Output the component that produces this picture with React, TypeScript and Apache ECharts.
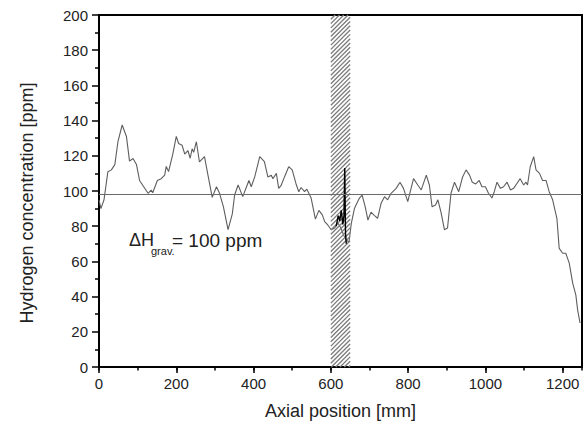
import React, { useEffect, useRef } from 'react';
import * as echarts from 'echarts';

// Main measured profile: axial position [mm] and hydrogen concentration [ppm]
const axialPositions = [
  0, 5, 13, 23, 32, 41, 49, 60, 71, 79, 88, 97, 105, 114, 127, 135, 139, 151, 161, 170,
  174, 180, 191, 200, 206, 215, 222, 230, 236, 241, 245, 252, 260, 273, 282, 293, 304, 312, 322, 334,
  345, 351, 360, 372, 388, 394, 403, 416, 428, 437, 446, 450, 459, 465, 471, 480, 491, 500, 510, 517,
  523, 532, 538, 549, 560, 569, 578, 584, 592, 601, 610, 618, 626, 633, 640, 647, 653, 661, 674, 681,
  689, 696, 704, 713, 721, 730, 739, 747, 756, 769, 779, 788, 799, 814, 825, 834, 847, 855, 862, 871,
  877, 885, 894, 902, 911, 920, 931, 941, 950, 959, 966, 975, 984, 991, 1000, 1008, 1017, 1023, 1030, 1039,
  1047, 1056, 1065, 1073, 1082, 1090, 1099, 1105, 1109, 1116, 1125, 1131, 1140, 1148, 1157, 1165, 1174, 1185, 1191, 1200,
  1208, 1217, 1226, 1234, 1239, 1245,
];
const hydrogenPpm = [
  95, 90, 95, 111, 112, 115, 128, 137.5, 131, 117, 118.5, 115, 106, 103, 98.7, 100.5, 99, 106, 107, 109,
  114, 111, 121, 131, 127, 126, 121, 123, 118.6, 124, 122, 128, 116.5, 119.5, 109, 96.4, 102.4, 98.7, 91, 78,
  87, 97.7, 103.4, 96.8, 106, 102.4, 108, 119.5, 116.7, 108, 109, 107, 110, 101.5, 103, 108, 113.8, 112, 104, 99.6,
  102, 99.6, 101, 96, 84, 89, 86.4, 82.6, 80.7, 78, 79, 82, 79, 75, 72, 71, 81.6, 90, 96, 97.7,
  91, 83.5, 88, 86, 84.5, 93, 96.8, 95, 98.7, 101.5, 105, 101.5, 94, 107, 103.4, 100.6, 109, 103.4, 91, 92,
  95, 88, 78, 79, 98.7, 105, 99.6, 108, 112, 109, 105, 104, 106, 102.4, 102.4, 98.7, 96, 99.6, 105, 101.5,
  102.4, 105, 100.6, 101.5, 104.4, 107, 103.4, 105, 103.4, 113.8, 119.5, 112, 110, 106, 106, 99.6, 95, 84.5, 67.4, 64.6,
  64.6, 59, 47.5, 41, 32, 25,
];

// Local measurement inside the hatched zone (black trace)
const spikePositions = [614, 619, 623, 627, 631, 634, 636, 638, 640];
const spikePpm = [80, 86, 83, 89, 81, 86, 113, 76, 70];

// Gravimetric reference value and hatched zone
const referencePpm = 98;
const hatchedZone = [600, 650];

const FONT = "'Liberation Sans', Arial, Helvetica, sans-serif";

export default function App() {
  const ref = useRef<HTMLDivElement>(null);

  useEffect(() => {
    if (!ref.current) return;
    const chart = echarts.init(ref.current, null, { renderer: 'svg' });

    const mainData = axialPositions.map((x, i) => [x, hydrogenPpm[i]]);
    const spikeData = spikePositions.map((x, i) => [x, spikePpm[i]]);

    const option: any = {
      animation: false,
      grid: {
        left: 99,
        top: 15,
        right: 6,
        bottom: 64,
        show: true,
        borderColor: '#000',
        borderWidth: 2,
        backgroundColor: 'transparent',
      },
      xAxis: [
        {
          type: 'value',
          min: 0,
          max: 1250,
          interval: 200,
          position: 'bottom',
          name: 'Axial position [mm]',
          nameLocation: 'middle',
          nameGap: 35,
          nameTextStyle: { fontFamily: FONT, fontSize: 18, color: '#222' },
          axisLine: { show: true, onZero: false, lineStyle: { color: '#000', width: 2 } },
          axisTick: { show: true, inside: false, length: 6, lineStyle: { color: '#000', width: 1.5 } },
          axisLabel: {
            fontFamily: FONT,
            fontSize: 15,
            color: '#222',
            margin: 9,
            showMaxLabel: false,
            formatter: (v: number) => String(v),
          },
          splitLine: { show: false },
        },
        {
          type: 'value',
          min: 0,
          max: 1250,
          interval: 100,
          position: 'bottom',
          axisLine: { show: false, onZero: false },
          axisTick: { show: true, inside: false, length: 3.5, lineStyle: { color: '#000', width: 1.5 } },
          axisLabel: { show: false },
          splitLine: { show: false },
        },
      ],
      yAxis: {
        type: 'value',
        min: 0,
        max: 200,
        interval: 20,
        axisLine: { show: true, onZero: false, lineStyle: { color: '#000', width: 2 } },
        axisTick: { show: true, inside: false, length: 7, lineStyle: { color: '#000', width: 1.5 } },
        minorTick: { show: true, splitNumber: 2, length: 4, lineStyle: { color: '#000', width: 1.5 } },
        axisLabel: { fontFamily: FONT, fontSize: 15, color: '#222', margin: 11, formatter: (v: number) => String(v) },
        splitLine: { show: false },
        minorSplitLine: { show: false },
      },
      graphic: [
        {
          type: 'text',
          x: 27,
          y: 203,
          rotation: Math.PI / 2,
          style: {
            text: 'Hydrogen concentration [ppm]',
            fontFamily: FONT,
            fontSize: 18,
            fill: '#222',
            textAlign: 'center',
            textVerticalAlign: 'middle',
          },
        },
        {
          type: 'text',
          x: 129,
          y: 240,
          style: {
            text: 'ΔH',
            fontFamily: FONT,
            fontSize: 18,
            fill: '#222',
            textAlign: 'left',
            textVerticalAlign: 'middle',
          },
        },
        {
          type: 'text',
          x: 151,
          y: 251,
          style: {
            text: 'grav.',
            fontFamily: FONT,
            fontSize: 11,
            fill: '#222',
            textAlign: 'left',
            textVerticalAlign: 'middle',
          },
        },
        {
          type: 'text',
          x: 172,
          y: 240,
          style: {
            text: '= 100 ppm',
            fontFamily: FONT,
            fontSize: 19,
            fill: '#222',
            textAlign: 'left',
            textVerticalAlign: 'middle',
          },
        },
      ],
      series: [
        {
          type: 'line',
          data: mainData,
          showSymbol: false,
          symbol: 'none',
          z: 2,
          lineStyle: { color: '#5e5e5e', width: 1.1 },
          markLine: {
            silent: true,
            symbol: 'none',
            label: { show: false },
            lineStyle: { color: '#6a6a6a', width: 1, type: 'solid' },
            data: [{ yAxis: referencePpm }],
          },
        },
        {
          type: 'custom',
          z: 3,
          silent: true,
          data: [[hatchedZone[0], hatchedZone[1]]],
          encode: { x: [0, 1] },
          renderItem: (params: any, api: any) => {
            const p0 = api.coord([api.value(0), 200]);
            const p1 = api.coord([api.value(1), 0]);
            const x0 = p0[0];
            const y0 = p0[1];
            const x1 = p1[0];
            const y1 = p1[1];
            const step = 4.3;
            const children: any[] = [];
            for (let k = x0 + y0; k <= x1 + y1; k += step) {
              const xa = Math.max(x0, k - y1);
              const xb = Math.min(x1, k - y0);
              if (xb > xa) {
                children.push({
                  type: 'line',
                  shape: { x1: xa, y1: k - xa, x2: xb, y2: k - xb },
                  style: { stroke: '#7c7c7c', lineWidth: 1.3 },
                });
              }
            }
            return { type: 'group', children };
          },
        },
        {
          type: 'line',
          data: spikeData,
          showSymbol: false,
          symbol: 'none',
          z: 4,
          lineStyle: { color: '#000', width: 1.4 },
        },
      ],
    };

    chart.setOption(option);
    return () => chart.dispose();
  }, []);

  return (
    <div
      ref={ref}
      style={{ position: 'fixed', left: 0, top: 0, width: 588, height: 431, background: '#fff' }}
    />
  );
}
